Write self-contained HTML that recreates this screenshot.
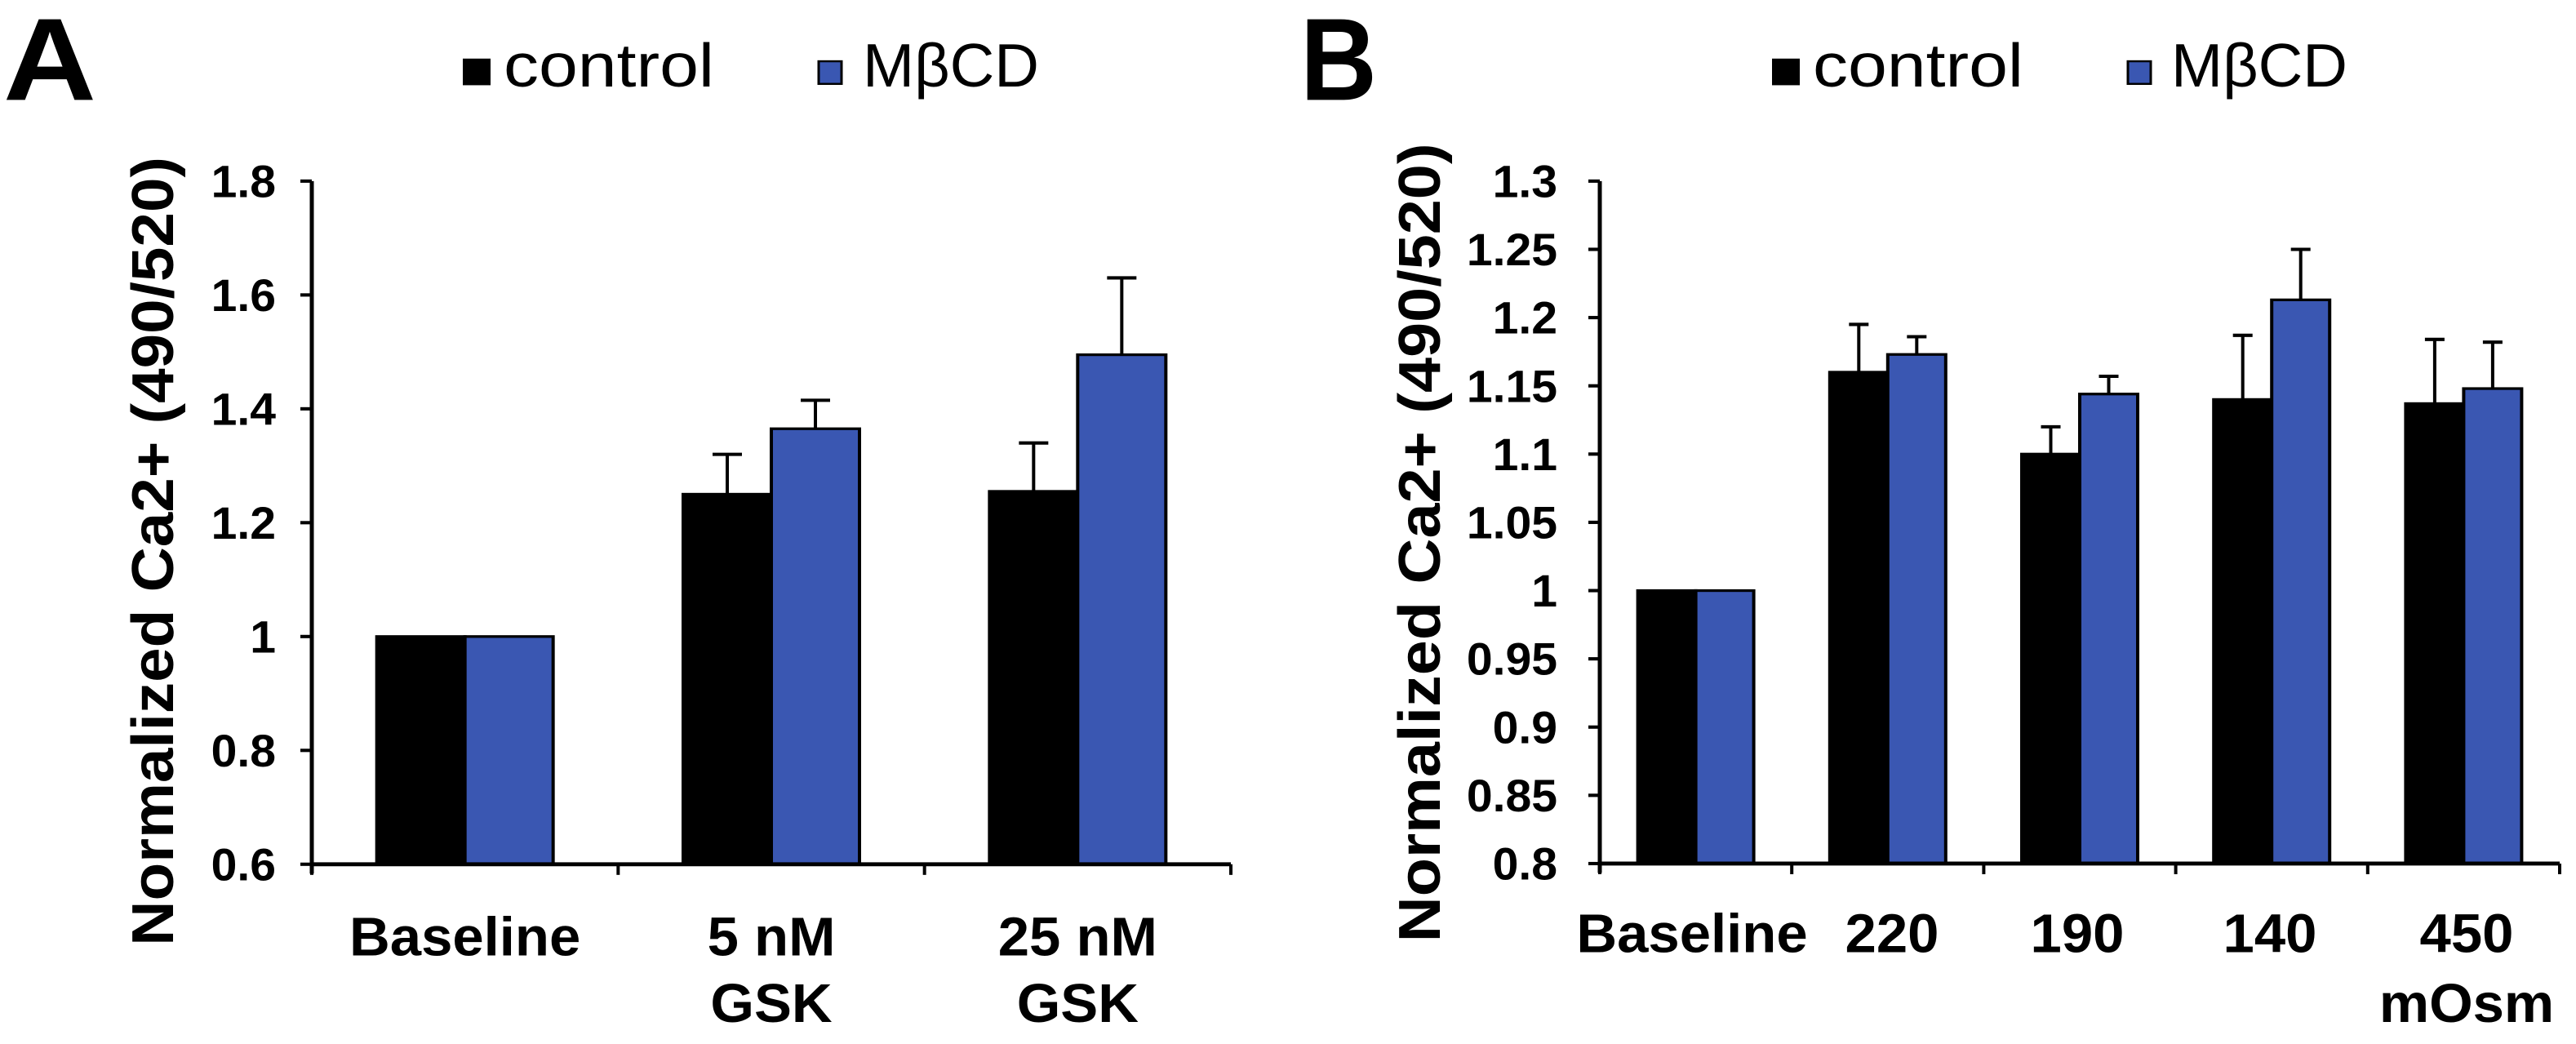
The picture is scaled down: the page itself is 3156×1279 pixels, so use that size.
<!DOCTYPE html>
<html><head><meta charset="utf-8"><style>
html,body{margin:0;padding:0;background:#fff;overflow:hidden;}
svg{display:block;font-family:"Liberation Sans",Arial,sans-serif;}
</style></head><body>
<svg id="c" width="3156" height="1279" viewBox="0 0 3156 1279" xmlns="http://www.w3.org/2000/svg">
<rect width="3156" height="1279" fill="#fff"/>
<g transform="scale(1,0.8157)">
<text x="4" y="150" font-size="176" font-weight="bold" textLength="114" lengthAdjust="spacingAndGlyphs">A</text>
<text x="1593" y="150" font-size="176" font-weight="bold" textLength="94" lengthAdjust="spacingAndGlyphs">B</text>
<g id="A"></g>
<g id="B"></g>
</g>
</svg>
<script>
const catsA=["Baseline","5 nM|GSK","25 nM|GSK"];
const ctrlA=[1,1.25,1.255];
const ctrlErrA=[0,0.07,0.085];
const mbcdA=[1,1.365,1.495];
const mbcdErrA=[0,0.05,0.135];
const ticksA=["0.6","0.8","1","1.2","1.4","1.6","1.8"];

const catsB=["Baseline","220","190","140","450|mOsm"];
const ctrlB=[1,1.16,1.1,1.14,1.137];
const ctrlErrB=[0,0.035,0.02,0.047,0.047];
const mbcdB=[1,1.173,1.144,1.213,1.148];
const mbcdErrB=[0,0.013,0.013,0.037,0.034];
const ticksB=["0.8","0.85","0.9","0.95","1","1.05","1.1","1.15","1.2","1.25","1.3"];

const NS="http://www.w3.org/2000/svg";
function mk(parent,tag,attrs,txt){const e=document.createElementNS(NS,tag);for(const k in attrs)e.setAttribute(k,attrs[k]);if(txt!==undefined)e.textContent=txt;parent.appendChild(e);return e;}

function draw(gid,cfg,cats,ctrl,ctrlErr,mbcd,mbcdErr,ticks){
  const g=document.getElementById(gid);
  const ymin=parseFloat(ticks[0]),ymax=parseFloat(ticks[ticks.length-1]);
  const y=v=>cfg.yb+(v-ymin)/(ymax-ymin)*(cfg.yt-cfg.yb);
  const gw=(cfg.x1-cfg.x0)/cats.length;
  cats.forEach((c,i)=>{
    const cx=cfg.x0+gw*(i+0.5);
    [[ctrl,ctrlErr,"#000",-1],[mbcd,mbcdErr,"#3a57b2",0]].forEach(([vals,errs,col,off],s)=>{
      const x=cx+off*cfg.bw;
      const top=y(vals[i]);
      if(errs[i]>0){
        const ex=x+cfg.bw/2,et=y(vals[i]+errs[i]);
        const l=mk(g,"line",{x1:ex,x2:ex,y1:top,y2:et,stroke:"#000","stroke-width":4});
        
        
        const cap=mk(g,"line",{x1:ex-cfg.cap,x2:ex+cfg.cap,y1:et,y2:et,stroke:"#000","stroke-width":5});
        
        
      }
      const r=mk(g,"rect",{x:x,y:top,width:cfg.bw,height:cfg.yb-top,fill:col,stroke:"#000","stroke-width":4});
      
      
    });
    const lines=c.split("|");
    lines.forEach((t,j)=>{
      const lx=cfg.labx?cfg.labx[i]:cx, ly=cfg.laby+j*cfg.lineh;
      const tx=mk(g,"text",{x:0,y:0,transform:`translate(${lx},${ly}) scale(0.84,1)`,"text-anchor":"middle","font-size":cfg.lfs,"font-weight":"bold"},t);
      
      
    });
  });
  const ya=mk(g,"line",{x1:cfg.x0,x2:cfg.x0,y1:cfg.yt,y2:cfg.yb+14,stroke:"#000","stroke-width":5});
  
  
  const xa=mk(g,"line",{x1:cfg.x0-2,x2:cfg.x1,y1:cfg.yb,y2:cfg.yb,stroke:"#000","stroke-width":6});
  
  
  for(let i=0;i<=cats.length;i++){
    const tx=cfg.x0+gw*i;
    const t=mk(g,"line",{x1:tx,x2:tx,y1:cfg.yb,y2:cfg.yb+16,stroke:"#000","stroke-width":4});
    
    
  }
  ticks.forEach(tk=>{
    const ty=y(parseFloat(tk));
    const t=mk(g,"line",{x1:cfg.x0-14,x2:cfg.x0,y1:ty,y2:ty,stroke:"#000","stroke-width":5});
    
    
    const l=mk(g,"text",{x:0,y:0,transform:`translate(${cfg.tickx},${ty+24}) scale(0.84,1)`,"text-anchor":"end","font-size":68,"font-weight":"bold"},tk);
    
    
  });
  const tt=mk(g,"text",{x:0,y:0,transform:`translate(${cfg.titx},${cfg.tity}) rotate(-90)`,"text-anchor":"middle","font-size":72,"font-weight":"bold",textLength:cfg.titl,lengthAdjust:"spacingAndGlyphs"},"Normalized Ca2+ (490/520)");
  
  
  const lg=mk(g,"g",{});
  
  
  const s1=mk(lg,"rect",{x:cfg.lg[0],y:88,width:34,height:40,fill:"#000"});
  
  
  const t1=mk(lg,"text",{x:cfg.lg[1],y:130,"font-size":92,textLength:cfg.lg[2],lengthAdjust:"spacingAndGlyphs"},"control");
  
  
  const s2=mk(lg,"rect",{x:cfg.lg[3],y:92,width:28,height:34,fill:"#3a57b2",stroke:"#000","stroke-width":3});
  
  
  const t2=mk(lg,"text",{x:cfg.lg[4],y:130,"font-size":92,textLength:cfg.lg[5],lengthAdjust:"spacingAndGlyphs"},"MβCD");
  
  
}

draw("A",{x0:382,x1:1508,yt:272,yb:1298,bw:108,cap:18,tickx:338,titx:212,tity:828,titl:1185,laby:1435,lineh:100,lfs:82,lg:[567,617,258,1003,1057,216]},catsA,ctrlA,ctrlErrA,mbcdA,mbcdErrA,ticksA);
draw("B",{x0:1960,x1:3136,yt:272,yb:1297,bw:71,cap:12,tickx:1908,titx:1764,tity:815,titl:1200,laby:1430,lineh:105,lfs:82,labx:[2073,2318,2545,2781,3022],lg:[2171,2221,258,2607,2660,216]},catsB,ctrlB,ctrlErrB,mbcdB,mbcdErrB,ticksB);
</script>
</body></html>
